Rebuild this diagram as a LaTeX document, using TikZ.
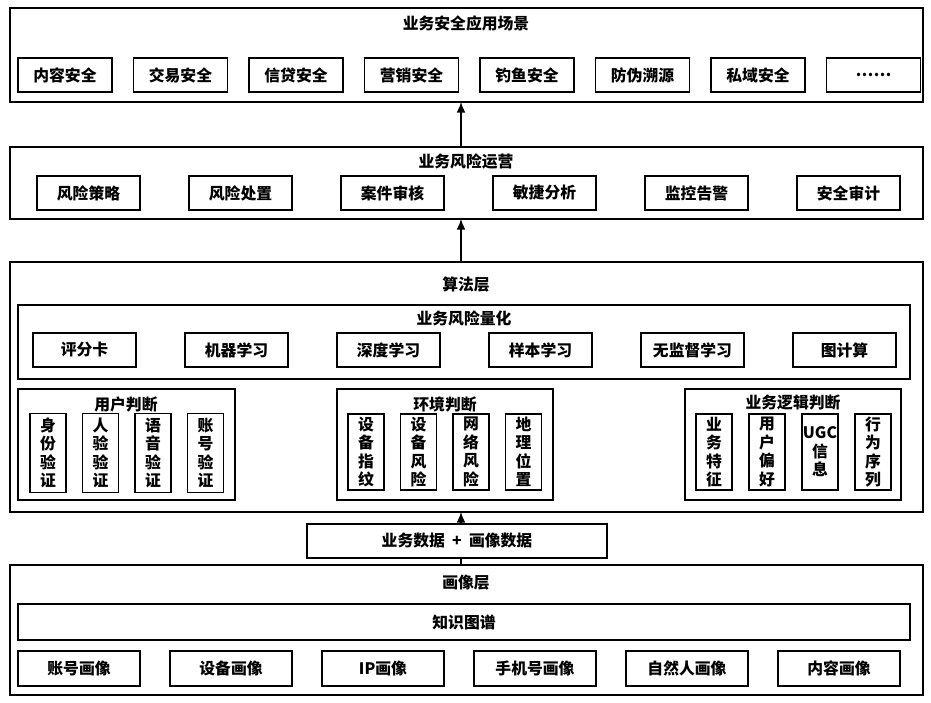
\documentclass[tikz,border=0pt]{standalone}
\usepackage{fontspec}
\newfontfamily\cjk{Noto Sans CJK SC}
\usetikzlibrary{arrows.meta}
\begin{document}
\begin{tikzpicture}[x=0.02cm,y=-0.02cm,font=\cjk\bfseries\fontsize{9}{10}\selectfont,
  box/.style={draw,line width=0.8pt,fill=white},
  lbl/.style={inner sep=0pt},
  vbox/.style={draw,line width=0.8pt,align=center,inner sep=0pt,font=\cjk\bfseries\fontsize{9}{10.5}\selectfont},
  up/.style={-{Latex[length=6pt,width=5pt]},line width=0.8pt}]
\useasboundingbox (0,0) rectangle (931,703);
% application layer
\draw[box] (10,8) rectangle (923,102);
\node[lbl] (app) at (466,23) {业务安全应用场景};
\foreach \t [count=\i] in {内容安全,交易安全,信贷安全,营销安全,钓鱼安全,防伪溯源,私域安全,……}
{\draw[box] ({18+115.5*(\i-1)},58) rectangle ({112+115.5*(\i-1)},92) node[pos=0.5] (app\i) {\t};}
% operation layer
\draw[box] (10,147) rectangle (923,219);
\node[lbl] (ops) at (466,161) {业务风险运营};
\foreach \t [count=\i] in {风险策略,风险处置,案件审核,敏捷分析,监控告警,安全审计}
{\draw[box] ({37+152*(\i-1)},176) rectangle ({140+152*(\i-1)},210) node[pos=0.5] (ops\i) {\t};}
% algorithm layer
\draw[box] (10,262) rectangle (923,512);
\node[lbl] (alg) at (466,285) {算法层};
\draw[box] (18,305) rectangle (910,379);
\node[lbl] (quant) at (464,318) {业务风险量化};
\foreach \t [count=\i] in {评分卡,机器学习,深度学习,样本学习,无监督学习,图计算}
{\draw[box] ({33+152*(\i-1)},333) rectangle ({136+152*(\i-1)},367) node[pos=0.5] (q\i) {\t};}
\draw[box] (18,389) rectangle (235,500);
\node[lbl] (user) at (126,405) {用户判断};
\foreach \t [count=\i] in {身\\份\\验\\证,人\\验\\验\\证,语\\音\\验\\证,账\\号\\验\\证}
{\node[vbox,minimum width=36*0.02cm,minimum height=79*0.02cm] (u\i) at ({48+52.5*(\i-1)},453) {\t};}
\draw[box] (337,389) rectangle (553,500);
\node[lbl] (env) at (445,405) {环境判断};
\foreach \t [count=\i] in {设\\备\\指\\纹,设\\备\\风\\险,网\\络\\风\\险,地\\理\\位\\置}
{\node[vbox,minimum width=36*0.02cm,minimum height=76*0.02cm] (e\i) at ({366+52.5*(\i-1)},452) {\t};}
\draw[box] (685,389) rectangle (901,500);
\node[lbl] (logic) at (793,403) {业务逻辑判断};
\foreach \t [count=\i] in {业\\务\\特\\征,用\\户\\偏\\好,UGC\\信\\息,行\\为\\序\\列}
{\node[vbox,minimum width=36*0.02cm,minimum height=76*0.02cm] (b\i) at ({714+53*(\i-1)},452) {\t};}
% portrait layer
\draw[box] (10,565) rectangle (923,695);
\node[lbl] (prof) at (466,583) {画像层};
\draw[box] (18,604) rectangle (910,640) node[pos=0.5] (kg) {知识图谱};
\foreach \t [count=\i] in {账号画像,设备画像,IP画像,手机号画像,自然人画像,内容画像}
{\draw[box] ({18+152*(\i-1)},651) rectangle ({140+152*(\i-1)},686) node[pos=0.5] (p\i) {\t};}
% connectors
\coordinate (algtop) at (461,262);
\coordinate (opsbot) at (461,219);
\coordinate (opstop) at (461,147);
\coordinate (appbot) at (461,102);
\coordinate (algbot) at (461,512);
\coordinate (proftop) at (461,565);
\draw[up] (algtop) -- (opsbot);
\draw[up] (opstop) -- (appbot);
\draw[up] (proftop) -- (algbot);
\node[draw,line width=0.8pt,fill=white,minimum width=300*0.02cm,minimum height=34*0.02cm] (data) at (457,541) {业务数据\ \ +\ \ 画像数据};
\end{tikzpicture}
\end{document}
